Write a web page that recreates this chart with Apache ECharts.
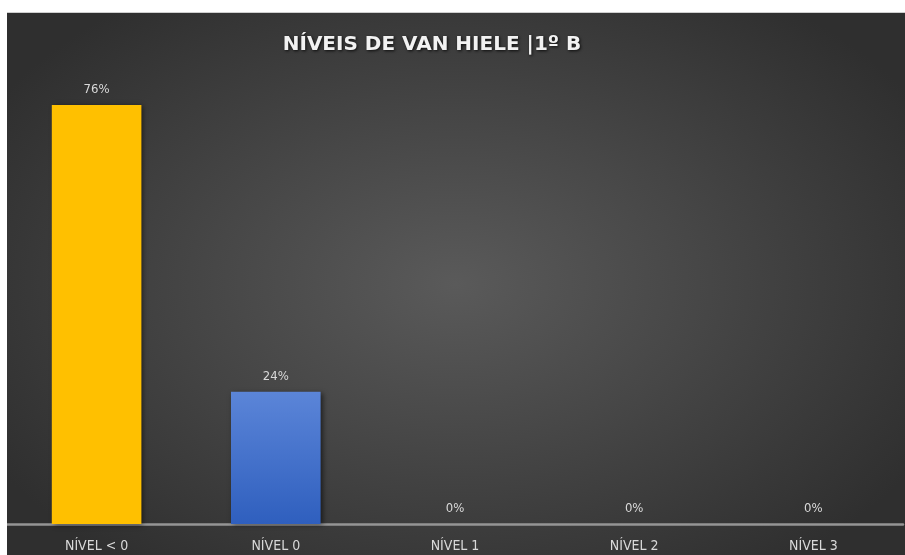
<!DOCTYPE html>
<html>
<head>
<meta charset="utf-8">
<script src="https://cdn.jsdelivr.net/npm/echarts@6/dist/echarts.min.js"></script>
<style>
  html, body { margin: 0; padding: 0; background: #ffffff; }
  #frame {
    position: absolute; left: 7px; top: 12px; width: 898px; height: 543px;
    background: radial-gradient(ellipse 60% 65% at 50% 50%, #5a5a5a 0%, #474747 45%, #2f2f2f 100%);
    border-top: 1px solid #cfcfcf;
    box-sizing: border-box;
  }
  #chart { position: absolute; left: 0; top: 0; width: 898px; height: 542px; }
</style>
</head>
<body>
<div id="frame"><div id="chart"></div></div>
<script>
// Categories and shares of students per Van Hiele level
const categories = ['NÍVEL < 0', 'NÍVEL 0', 'NÍVEL 1', 'NÍVEL 2', 'NÍVEL 3'];
const shares = [0.76, 0.24, 0, 0, 0];

const FONT = "'DejaVu Sans Condensed', 'Roboto', sans-serif";
const TITLE_FONT = "'DejaVu Sans', 'Roboto', sans-serif";

const yellow = '#ffc000';
const blue = new echarts.graphic.LinearGradient(0, 0, 0, 1, [
  { offset: 0, color: '#5b85d8' },
  { offset: 1, color: '#2f5fbe' }
]);
const barColors = [yellow, blue, blue, blue, blue];

const chart = echarts.init(document.getElementById('chart'));
chart.setOption({
  backgroundColor: 'transparent',
  animation: false,
  title: {
    text: 'NÍVEIS DE VAN HIELE |1º B',
    left: 420,
    top: 17,
    textAlign: 'center',
    textStyle: {
      color: '#f2f2f2',
      fontFamily: TITLE_FONT,
      fontWeight: 'bold',
      fontSize: 20,
      textShadowColor: 'rgba(0,0,0,0.8)',
      textShadowBlur: 3,
      textShadowOffsetX: 1,
      textShadowOffsetY: 1
    }
  },
  grid: { left: 0, right: 2, top: 70, bottom: 31 },
  xAxis: {
    type: 'category',
    data: categories,
    axisTick: { show: false },
    axisLine: { lineStyle: { color: '#959595', width: 2.5 } },
    axisLabel: {
      color: '#d9d9d9',
      fontFamily: FONT,
      fontSize: 14,
      margin: 15
    }
  },
  yAxis: {
    type: 'value',
    min: 0,
    max: 0.8,
    show: false,
    splitLine: { show: false }
  },
  series: [{
    type: 'bar',
    data: shares.map((v, i) => ({ value: v, itemStyle: { color: barColors[i] } })),
    barWidth: '50%',
    itemStyle: {
      shadowColor: 'rgba(0,0,0,0.55)',
      shadowBlur: 5,
      shadowOffsetX: 2,
      shadowOffsetY: 1
    },
    label: {
      show: true,
      position: 'top',
      distance: 9,
      color: '#d9d9d9',
      fontFamily: FONT,
      fontSize: 13,
      formatter: p => Math.round(p.value * 100) + '%'
    }
  }]
});
</script>
</body>
</html>
